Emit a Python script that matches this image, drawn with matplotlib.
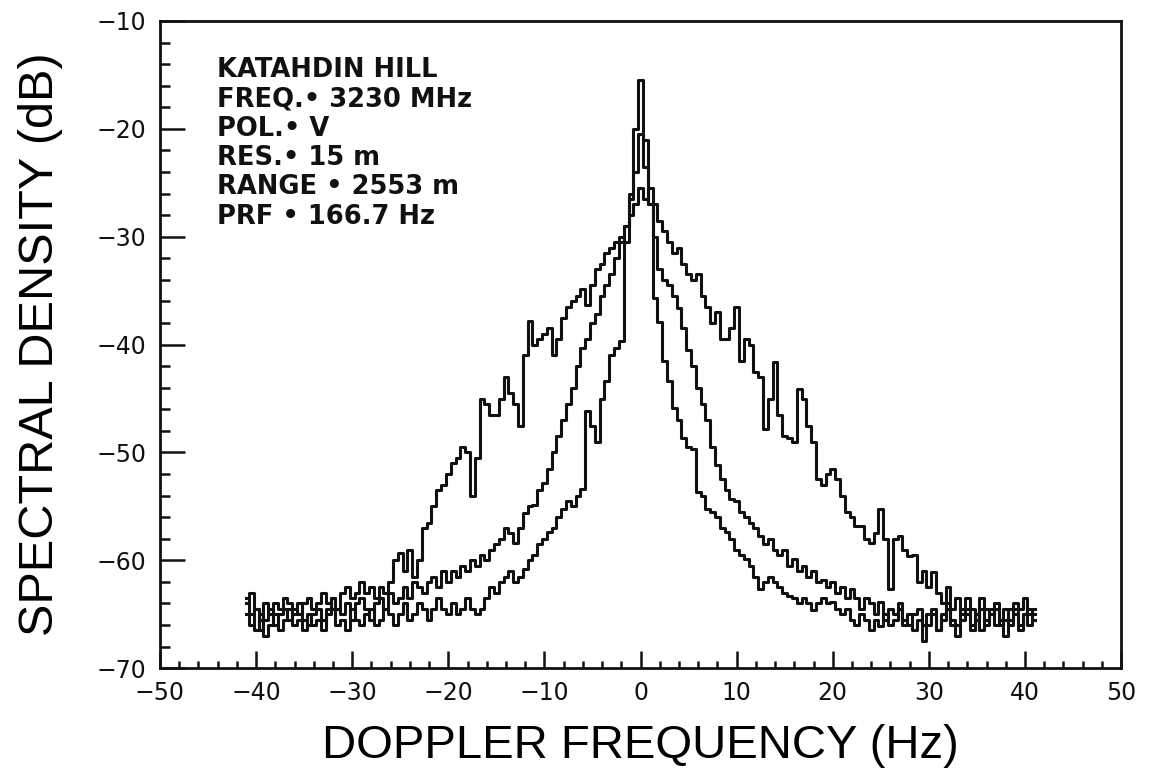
import numpy as np
import matplotlib.pyplot as plt
from matplotlib.ticker import MultipleLocator

# Doppler frequency bins (Hz), 0.5 Hz apart, -41 ... 41
freq = np.arange(-41.0, 41.01, 0.5)

# widest spectrum
spec_wide = [
    -64.0, -63.0, -64.5, -65.5, -64.0, -65.0, -64.0, -64.5, -63.5, -64.0,
    -64.5, -65.0, -64.0, -63.5, -64.5, -64.0, -63.0, -64.0, -63.5, -64.5,
    -63.0, -62.5, -63.5, -63.0, -62.0, -63.0, -62.5, -63.5, -62.5, -63.0,
    -62.0, -60.0, -59.3, -61.0, -59.0, -61.5, -60.0, -57.0, -56.5, -55.0,
    -53.5, -53.0, -52.0, -51.0, -50.5, -49.5, -50.0, -54.0, -50.5, -45.0,
    -45.5, -46.5, -46.5, -45.0, -43.0, -44.5, -45.5, -47.5, -41.0, -37.8,
    -40.0, -39.5, -39.0, -38.5, -41.0, -39.5, -37.5, -36.5, -36.0, -35.5,
    -34.8, -36.3, -34.5, -33.0, -32.5, -31.5, -31.0, -30.5, -30.0, -29.0,
    -28.0, -27.0, -25.5, -26.5, -25.5, -27.0, -28.5, -29.5, -30.5, -31.5,
    -31.0, -32.5, -33.5, -34.0, -33.5, -35.5, -36.5, -38.0, -37.0, -39.5,
    -39.5, -38.5, -36.5, -41.5, -39.5, -40.0, -42.5, -43.0, -47.8, -45.0,
    -41.6, -46.5, -48.5, -48.7, -49.0, -44.1, -45.0, -47.5, -49.0, -52.5,
    -53.0, -52.0, -51.5, -52.5, -54.0, -55.5, -56.0, -56.8, -56.8, -58.0,
    -58.4, -57.5, -55.2, -58.0, -62.7, -58.0, -57.7, -59.0, -59.6, -59.5,
    -62.0, -61.0, -62.5, -61.1, -63.0, -64.0, -62.5, -64.5, -63.5, -65.0,
    -63.5, -64.5, -65.5, -63.5, -64.5, -65.0, -64.0, -65.5, -64.5, -66.0,
    -64.0, -64.5, -63.5, -65.0, -64.5,
]

# middle spectrum
spec_mid = [
    -65.0, -66.0, -64.5, -66.5, -65.5, -64.5, -66.0, -65.0, -64.5, -65.5,
    -65.0, -64.0, -65.5, -66.0, -65.0, -64.5, -65.5, -64.5, -63.5, -64.5,
    -65.0, -64.0, -65.5, -64.0, -63.5, -64.5, -65.5, -64.0, -63.5, -64.5,
    -63.0, -64.0, -63.5, -62.5, -63.5, -62.0, -62.5, -63.0, -62.0, -61.5,
    -62.5, -61.0, -62.0, -61.0, -61.5, -60.5, -61.0, -60.0, -60.5, -59.5,
    -60.0, -59.0, -58.5, -58.0, -57.0, -57.5, -58.4, -57.0, -55.6, -55.0,
    -54.9, -53.5, -52.8, -51.5, -50.0, -48.5, -47.0, -45.5, -44.0, -42.0,
    -40.3, -39.5, -38.0, -37.2, -35.5, -34.5, -33.5, -32.0, -30.5, -29.0,
    -26.5, -24.0, -20.5, -23.5, -27.0, -30.0, -33.0, -34.0, -34.5, -35.5,
    -36.6, -38.5, -40.5, -42.0, -44.0, -45.5, -47.0, -49.5, -51.2, -52.5,
    -53.5, -54.3, -54.5, -55.5, -56.0, -56.5, -57.0, -57.7, -58.5, -58.0,
    -59.0, -59.5, -59.0, -60.5, -59.9, -61.0, -60.5, -61.5, -61.0, -62.0,
    -61.8, -62.5, -62.0, -63.0, -62.5, -63.5, -62.7, -63.5, -64.5, -63.5,
    -64.0, -65.0, -63.9, -65.5, -64.5, -65.0, -64.0, -65.5, -66.0, -65.0,
    -64.5, -66.0, -65.0, -64.5, -66.5, -65.0, -64.0, -65.5, -66.0, -64.5,
    -65.0, -66.5, -65.5, -64.5, -66.0, -65.0, -64.5, -66.0, -65.5, -64.5,
    -65.0, -66.5, -65.0, -64.5, -65.5,
]

# narrowest spectrum, with the spike at 0 Hz
spec_narrow = [
    -63.5, -65.0, -66.5, -65.0, -67.0, -66.0, -65.0, -66.5, -65.5, -64.5,
    -66.0, -65.5, -66.5, -65.0, -66.0, -65.5, -66.5, -65.0, -64.5, -66.0,
    -65.5, -66.5, -64.5, -65.5, -66.0, -65.0, -64.5, -66.0, -65.5, -64.5,
    -65.0, -66.0, -65.0, -64.0, -65.5, -65.0, -64.0, -64.5, -65.5, -64.5,
    -63.5, -64.5, -65.0, -64.0, -65.0, -64.5, -63.5, -64.5, -65.0, -64.5,
    -63.5, -62.5, -63.0, -62.0, -61.5, -61.0, -62.0, -61.5, -60.8, -60.0,
    -59.5, -58.5, -58.0, -57.4, -57.0, -56.0, -55.2, -54.5, -55.0, -54.0,
    -53.4, -46.2, -47.5, -49.0, -45.0, -43.4, -41.0, -40.3, -39.7, -30.5,
    -26.0, -20.0, -15.5, -21.0, -27.0, -35.7, -37.9, -41.5, -43.4, -45.9,
    -47.0, -48.7, -49.5, -49.7, -53.7, -54.0, -55.2, -55.5, -56.0, -57.0,
    -57.4, -58.0, -59.0, -59.5, -59.9, -60.5, -61.5, -62.7, -62.0, -61.5,
    -62.0, -62.5, -63.0, -63.3, -63.5, -64.0, -63.5, -64.0, -64.6, -64.0,
    -63.5, -64.0, -63.9, -64.5, -65.0, -64.5, -65.5, -66.0, -65.0, -65.5,
    -66.5, -65.5, -66.1, -65.0, -66.0, -65.5, -64.5, -66.0, -65.0, -66.5,
    -65.5, -67.5, -66.0, -65.0, -66.5, -65.5, -64.5, -66.0, -67.0, -65.5,
    -64.5, -66.0, -65.0, -66.5, -65.5, -64.5, -66.0, -65.5, -67.0, -65.5,
    -64.5, -66.0, -65.0, -66.0, -65.0,
]

info_lines = ["KATAHDIN HILL", "FREQ.\u2022 3230 MHz", "POL.\u2022 V",
              "RES.\u2022 15 m", "RANGE \u2022 2553 m", "PRF \u2022 166.7 Hz"]

fig = plt.figure(figsize=(11.51, 7.77), dpi=100)
ax = fig.add_axes([0.139, 0.140, 0.835, 0.833])

for s in (spec_wide, spec_mid, spec_narrow):
    ax.plot(freq, s, color='#111111', lw=2.2, drawstyle='steps-mid')

ax.set_xlim(-50, 50)
ax.set_ylim(-70, -10)
ax.xaxis.set_major_locator(MultipleLocator(10))
ax.xaxis.set_minor_locator(MultipleLocator(2))
ax.yaxis.set_major_locator(MultipleLocator(10))
ax.yaxis.set_minor_locator(MultipleLocator(2))
ax.tick_params(which='both', direction='in', top=False, right=False, width=1.8, color='#111111')
ax.tick_params(axis='x', which='major', length=12, pad=9)
ax.tick_params(axis='x', which='minor', length=5)
ax.tick_params(axis='y', which='major', length=18, pad=10)
ax.tick_params(axis='y', which='minor', length=7)
for spine in ax.spines.values():
    spine.set_linewidth(2.0)
    spine.set_color('#111111')
for lab in ax.get_xticklabels() + ax.get_yticklabels():
    lab.set_family('DejaVu Sans')
    lab.set_fontsize(17)
    lab.set_color('#111111')

ax.set_xlabel('DOPPLER FREQUENCY (Hz)', family='Liberation Sans', fontsize=34, labelpad=14)
ax.set_ylabel('SPECTRAL DENSITY (dB)', family='Liberation Sans', fontsize=35, labelpad=24)

# info block, one line each, 2.72 dB apart
for i, line in enumerate(info_lines):
    ax.text(-44.1, -14.55 - 2.72 * i, line, family='DejaVu Sans', fontweight='bold',
            fontsize=18.5, va='center', ha='left', color='#111111')

plt.savefig('out.png', dpi=100)
